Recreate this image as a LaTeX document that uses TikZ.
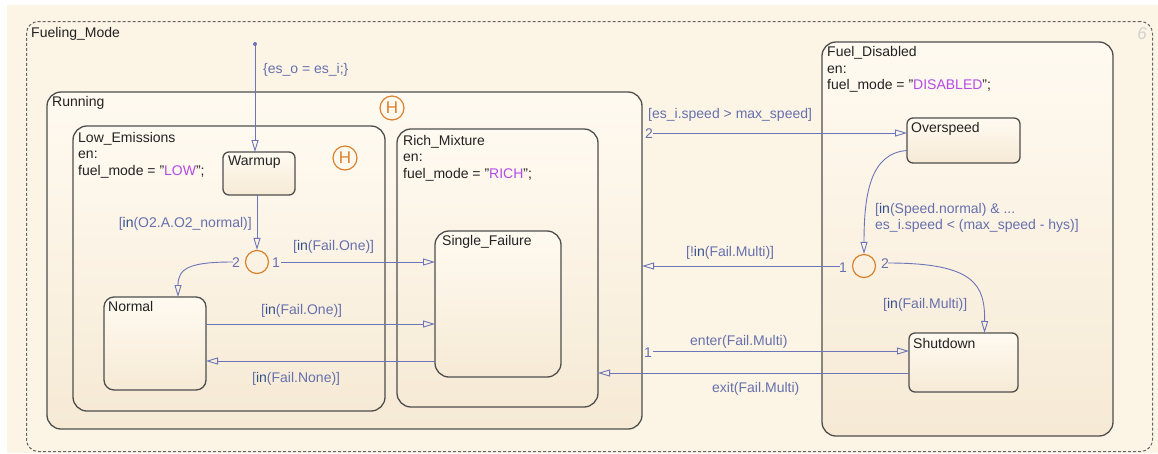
\documentclass[tikz,border=0pt]{standalone}
\usepackage{fontspec}
\setmainfont{Liberation Sans}
\usetikzlibrary{arrows.meta,calc}
\definecolor{bgc}{HTML}{FCF4E4}
\definecolor{sttop}{HTML}{FFFAF1}
\definecolor{stbot}{HTML}{F6EAD5}
\definecolor{stborder}{HTML}{4E4E4E}
\definecolor{trc}{HTML}{6C75B8}
\definecolor{trtext}{HTML}{6670AE}
\definecolor{kwc}{HTML}{34508A}
\definecolor{junc}{HTML}{D9822E}
\definecolor{strc}{HTML}{B44BE6}
\definecolor{txt}{HTML}{222222}
\newcommand\kwd[1]{\textcolor{kwc}{#1}}
\newcommand\strl[1]{\textcolor{strc}{#1}}
\begin{document}
\begin{tikzpicture}[x=1pt,y=-1pt,
  font=\fontsize{14}{16}\selectfont,
  statebox/.style={draw=stborder, line width=1.3pt, top color=sttop, bottom color=stbot,
    anchor=north west, inner sep=0, outer sep=0},
  lbl/.style={anchor=base west, inner sep=0, text=txt},
  trl/.style={anchor=base west, inner sep=0, text=trtext},
  tr/.style={draw=trc, line width=0.9pt, -{Triangle[open,length=12pt,width=7pt]}},
  junction/.style={circle, draw=junc, line width=1.2pt, minimum size=23, inner sep=0},
  hist/.style={circle, draw=junc, line width=1.2pt, minimum size=24, inner sep=0,
    text=junc, font=\fontsize{17}{17}\selectfont}
]
% background
\fill[white] (0,0) rectangle (1158,453);
\fill[bgc] (7,5) rectangle (1158,453);

% Fueling_Mode
\node[draw=black!60, dash pattern=on 3pt off 2pt, line width=1pt, fill=bgc,
  anchor=north west, inner sep=0, rounded corners=12pt,
  minimum width=1126, minimum height=430] (fm) at (26,21) {};
\node[lbl] (fmt) at (31,37.5) {Fueling\_Mode};
\node[inner sep=0, text=black!18, font=\fontsize{17}{17}\selectfont\itshape] (six) at (1142,34) {6};

% Running
\node[statebox, rounded corners=14pt, minimum width=595, minimum height=337] (running) at (47,92) {};
\node[lbl] (runt) at (52,106.5) {Running};
\node[hist] (h1) at (392,108) {H};

% Low_Emissions
\node[statebox, rounded corners=14pt, minimum width=312, minimum height=285] (low) at (73,126) {};
\node[lbl] (lowt1) at (78,142) {Low\_Emissions};
\node[lbl] (lowt2) at (78,158.5) {en:};
\node[lbl] (lowt3) at (78,175) {fuel\_mode = "\strl{LOW}";};
\node[hist] (h2) at (345,158) {H};

% Warmup
\node[statebox, rounded corners=6pt, minimum width=72, minimum height=43] (warmup) at (223,152) {};
\node[lbl] (warmt) at (228,165) {Warmup};

% Normal
\node[statebox, rounded corners=10pt, minimum width=102, minimum height=93] (normal) at (104,297) {};
\node[lbl] (normt) at (108,311) {Normal};

% Rich_Mixture
\node[statebox, rounded corners=14pt, minimum width=201, minimum height=278] (rich) at (397,129) {};
\node[lbl] (richt1) at (403,145) {Rich\_Mixture};
\node[lbl] (richt2) at (403,161.5) {en:};
\node[lbl] (richt3) at (403,178) {fuel\_mode = "\strl{RICH}";};

% Single_Failure
\node[statebox, rounded corners=14pt, minimum width=126, minimum height=146] (sf) at (435,231) {};
\node[lbl] (sft) at (442,245) {Single\_Failure};

% Fuel_Disabled
\node[statebox, rounded corners=14pt, minimum width=291, minimum height=394] (fd) at (822,42) {};
\node[lbl] (fdt1) at (827,56.5) {Fuel\_Disabled};
\node[lbl] (fdt2) at (827,73) {en:};
\node[lbl] (fdt3) at (827,89.5) {fuel\_mode = "\strl{DISABLED}";};

% Overspeed
\node[statebox, rounded corners=6pt, minimum width=113, minimum height=45] (os) at (907,118) {};
\node[lbl] (ost) at (911,132) {Overspeed};

% Shutdown
\node[statebox, rounded corners=6pt, minimum width=109, minimum height=59] (sd) at (909,333) {};
\node[lbl] (sdt) at (913,348) {Shutdown};

% junctions
\node[junction] (lj) at (257,262) {};
\node[junction] (rj) at (864,266) {};

% default transition
\node[circle, fill=trc, inner sep=0, minimum size=4] (dot) at (255,44) {};
\draw[tr] (dot.center) -- (dot |- warmup.north);
\node[trl] (deft) at (263,73) {\{es\_o = es\_i;\}};

% Warmup -> junction
\draw[tr] (lj |- warmup.south) -- (lj.north);
\node[trl, anchor=base east] (o2t) at (252,227) {[\kwd{in}(O2.A.O2\_normal)]};

% junction 1 -> Single_Failure
\draw[tr] ($(lj.east)+(12,0)$) -- (sf.west |- lj.east);
\node[trl] (lj1) at (272,267) {1};
\node[trl] (f1t) at (293,250) {[\kwd{in}(Fail.One)]};

% junction 2 -> Normal
\coordinate (nin) at ($(normal.north)+(23,0)$);
\draw[tr] ($(lj.west)+(-12,0)$) .. controls (190,262) and (178,268) .. (nin);
\node[trl] (lj2) at (232,267) {2};

% Normal <-> Single_Failure
\coordinate (ya) at (0,324);
\coordinate (yb) at (0,361);
\draw[tr] (normal.east |- ya) -- (sf.west |- ya);
\node[trl] (f2t) at (261,314) {[\kwd{in}(Fail.One)]};
\draw[tr] (sf.west |- yb) -- (normal.east |- yb);
\node[trl] (f3t) at (252,382) {[\kwd{in}(Fail.None)]};

% Running -> Overspeed
\coordinate (yc) at (0,133);
\draw[tr] ($(running.east |- yc)+(11,0)$) -- (os.west |- yc);
\node[trl] (r2) at (645,138) {2};
\node[trl] (spt) at (648,118) {[es\_i.speed > max\_speed]};

% Overspeed -> right junction
\coordinate (osout) at ($(os.west)+(0,10)$);
\draw[tr] (osout) .. controls (870,153) and (864,195) .. (rj.north);
\node[trl] (hyst1) at (875,213) {[\kwd{in}(Speed.normal) \& ...};
\node[trl] (hyst2) at (875,229) {es\_i.speed < (max\_speed - hys)]};

% right junction 1 -> Running
\draw[tr] ($(rj.west)+(-12,0)$) -- (running.east |- rj.west);
\node[trl] (rj1) at (839,272) {1};
\node[trl] (nmt) at (686,256) {[!\kwd{in}(Fail.Multi)]};

% right junction 2 -> Shutdown
\coordinate (sdin) at ($(sd.north)+(21,0)$);
\draw[tr] ($(rj.east)+(12,-3)$) .. controls (975,263) and (985,285) .. (sdin);
\node[trl] (rj2) at (881,268) {2};
\node[trl] (mt) at (883,308) {[\kwd{in}(Fail.Multi)]};

% enter / exit
\coordinate (yd) at (0,351);
\coordinate (ye) at (0,373);
\draw[tr] ($(running.east |- yd)+(11,0)$) -- (sd.west |- yd);
\node[trl] (r1) at (644,357) {1};
\node[trl] (ent) at (690,345) {enter(Fail.Multi)};
\draw[tr] (sd.west |- ye) -- (rich.east |- ye);
\node[trl] (ext) at (712,392) {exit(Fail.Multi)};
\end{tikzpicture}
\end{document}
